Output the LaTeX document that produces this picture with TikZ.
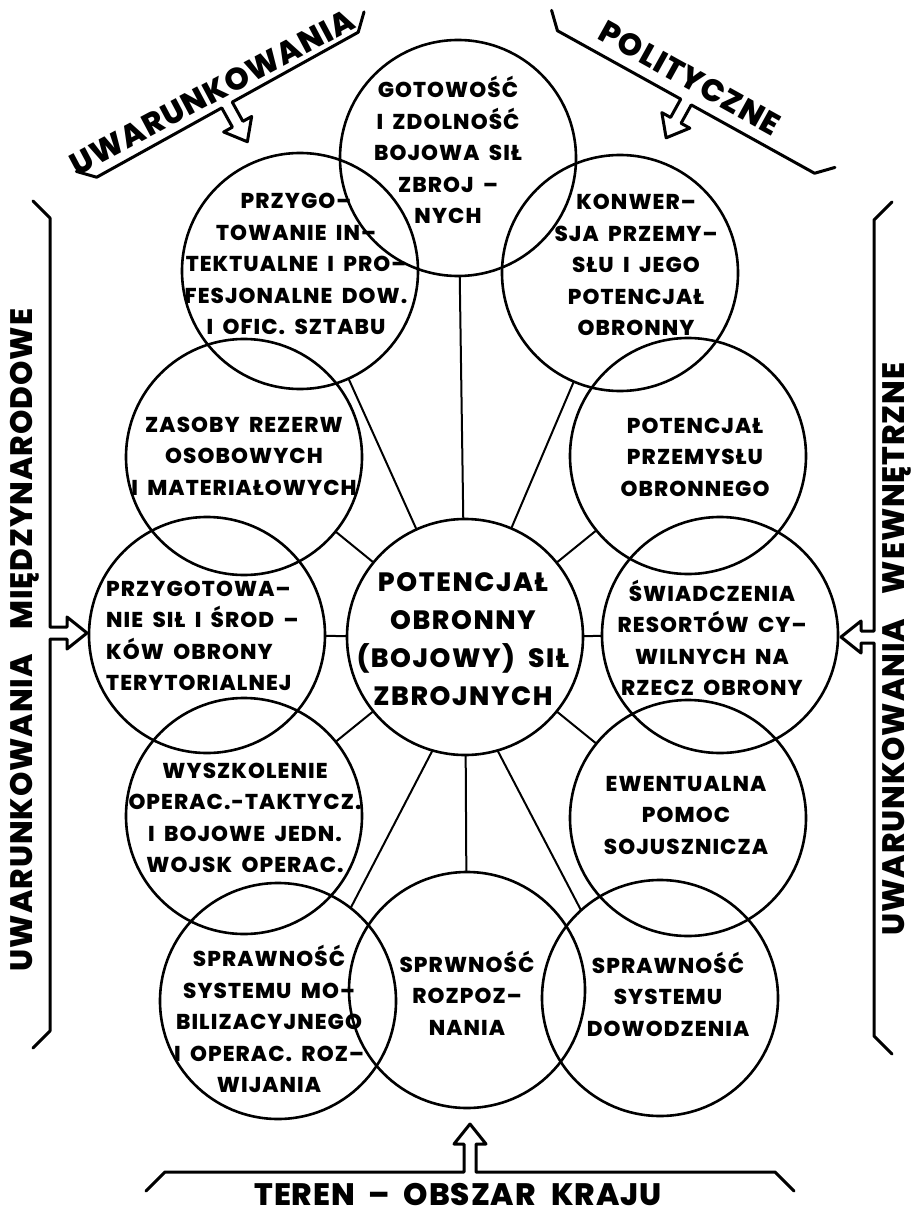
\documentclass[tikz,border=0pt]{standalone}
\usepackage{fontspec}
\setmainfont{Poppins}[BoldFont={Poppins ExtraBold}]
\newfontfamily\circfont{Poppins}[BoldFont={Poppins ExtraBold},LetterSpace=5,WordSpace=1.8]
\newfontfamily\bigfont{Poppins}[BoldFont={Poppins ExtraBold},LetterSpace=6,WordSpace=2]
\newfontfamily\labfont{Poppins}[BoldFont={Poppins ExtraBold},LetterSpace=3,WordSpace=2]
\usetikzlibrary{calc}
\newcommand\bracearrow[6]{%
  \begin{scope}[shift={#1},rotate=#2]
    \draw[brk] ({-#3-#5},#5) -- (-#3,0) -- (-6,0) -- (-6,{-(#6-20)}) -- (-16,{-(#6-20)})
      -- (0,-#6) -- (16,{-(#6-20)}) -- (6,{-(#6-20)}) -- (6,0) -- (#4,0) -- ({#4+#5},#5);
  \end{scope}}
\begin{document}
\begin{tikzpicture}[x=1pt,y=-1pt,
  circ/.style={circle,draw,line width=2.6pt,minimum size=236pt,inner sep=0pt,outer sep=0pt},
  ctext/.style={font=\circfont\bfseries\fontsize{21.5}{31.5}\selectfont,align=center,inner sep=0pt},
  bigtext/.style={font=\bigfont\bfseries\fontsize{26.5}{38}\selectfont,align=center,inner sep=0pt},
  spoke/.style={line width=2pt},
  brk/.style={line width=3pt,line join=round,line cap=round},
  lab/.style={font=\labfont\bfseries\fontsize{31}{36}\selectfont,inner sep=0pt}]
\useasboundingbox[fill=white] (0,0) rectangle (919,1214);

% circles
\node[circ] (gotowosc) at (458,158) {};
\node[circ] (przygint) at (300,271) {};
\node[circ] (konwersja) at (620,273) {};
\node[circ] (zasoby) at (244,457) {};
\node[circ] (potprzem) at (688,456) {};
\node[circ] (przygsil) at (207,635) {};
\node[circ] (swiadcz) at (720,635) {};
\node[circ] (central) at (465,637) {};
\node[circ] (wyszk) at (244,816) {};
\node[circ] (ewent) at (688,818) {};
\node[circ] (sprmob) at (278,1001) {};
\node[circ] (rozpoz) at (467,990) {};
\node[circ] (dowodz) at (660,998) {};

% spokes
\draw[spoke] (central) -- (gotowosc);
\draw[spoke] (central) -- (przygint);
\draw[spoke] (central) -- (konwersja);
\draw[spoke] (central) -- (zasoby);
\draw[spoke] (central) -- (potprzem);
\draw[spoke] (central) -- (przygsil);
\draw[spoke] (central) -- (swiadcz);
\draw[spoke] (central) -- (wyszk);
\draw[spoke] (central) -- (ewent);
\draw[spoke] (central.254.6) -- (sprmob.52);
\draw[spoke] (central) -- (rozpoz);
\draw[spoke] (central.-74) -- (dowodz.132);

% texts
\node[ctext] (tgotowosc) at (448,150) {GOTOWOŚĆ\\I ZDOLNOŚĆ\\BOJOWA SIŁ\\ZBROJ –\\NYCH};
\node[ctext] (tprzygint) at (296,264) {PRZYGO–\\TOWANIE IN–\\TEKTUALNE I PRO–\\FESJONALNE DOW.\\I OFIC. SZTABU};
\node[ctext] (tkonwersja) at (636,265) {KONWER–\\SJA PRZEMY–\\SŁU I JEGO\\POTENCJAŁ\\OBRONNY};
\node[ctext] (tzasoby) at (244,456) {ZASOBY REZERW\\OSOBOWYCH\\I MATERIAŁOWYCH};
\node[ctext] (tpotprzem) at (695,457) {POTENCJAŁ\\PRZEMYSŁU\\OBRONNEGO};
\node[ctext,align=left,anchor=west] (tprzygsil) at (106,636) {PRZYGOTOWA–\\NIE SIŁ I ŚROD –\\KÓW OBRONY\\TERYTORIALNEJ};
\node[ctext] (tswiadcz) at (712,638) {ŚWIADCZENIA\\RESORTÓW CY–\\WILNYCH NA\\RZECZ OBRONY};
\node[bigtext] (tcentral) at (463,639) {POTENCJAŁ\\OBRONNY\\(BOJOWY) SIŁ\\ZBROJNYCH};
\node[ctext] (twyszk) at (245,818) {WYSZKOLENIE\\OPERAC.-TAKTYCZ.\\I BOJOWE JEDN.\\WOJSK OPERAC.};
\node[ctext] (tewent) at (686,815) {EWENTUALNA\\POMOC\\SOJUSZNICZA};
\node[ctext] (tsprmob) at (269,1019) {SPRAWNOŚĆ\\SYSTEMU MO–\\BILIZACYJNEGO\\I OPERAC. ROZ–\\WIJANIA};
\node[ctext] (trozpoz) at (467,993) {SPRWNOŚĆ\\ROZPOZ–\\NANIA};
\node[ctext] (tdowodz) at (668,994) {SPRAWNOŚĆ\\SYSTEMU\\DOWODZENIA};

% brackets with hollow arrows
\bracearrow{(470,1172)}{0}{305}{305}{19}{48}
\bracearrow{(227,105)}{209}{150}{149}{15}{42}
\bracearrow{(686,102)}{151}{147}{147}{15}{41}
\bracearrow{(50,633)}{-90}{415}{398}{17}{37}
\bracearrow{(874,637)}{90}{399}{417}{18}{33}

% bracket labels
\node[lab,rotate=28] (luw) at (212,92) {UWARUNKOWANIA};
\node[lab,rotate=-29] (lpol) at (690,78) {POLITYCZNE};
\node[lab,rotate=90] (lmie) at (25,640) {UWARUNKOWANIA\hspace{0.8em}MIĘDZYNARODOWE};
\node[lab,rotate=90] (lwew) at (897,649) {UWARUNKOWANIA\hspace{0.8em}WEWNĘTRZNE};
\node[lab] (lteren) at (458,1194) {TEREN – OBSZAR\hspace{0.5em}KRAJU};
\end{tikzpicture}
\end{document}
